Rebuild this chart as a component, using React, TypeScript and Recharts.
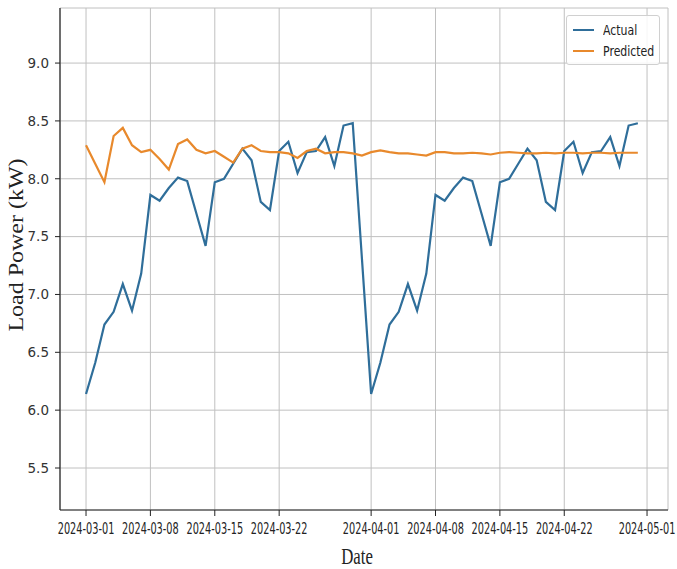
import { CartesianGrid, Legend, Line, LineChart, XAxis, YAxis } from "recharts";

// Daily load, 2024-03-01 .. 2024-04-30 (index = days since 2024-03-01)
const actual = [
  6.14, 6.41, 6.74, 6.85, 7.09, 6.86, 7.18, 7.86, 7.81, 7.92, 8.01, 7.98, 7.7, 7.42, 7.97, 8.0,
  8.13, 8.26, 8.16, 7.8, 7.73, 8.24, 8.32, 8.05, 8.23, 8.24, 8.36, 8.11, 8.46, 8.48, 7.31,
  6.14, 6.41, 6.74, 6.85, 7.09, 6.86, 7.18, 7.86, 7.81, 7.92, 8.01, 7.98, 7.7, 7.42, 7.97, 8.0,
  8.13, 8.26, 8.16, 7.8, 7.73, 8.24, 8.32, 8.05, 8.23, 8.24, 8.36, 8.11, 8.46, 8.48,
];

const predicted = [
  8.29, 8.13, 7.97, 8.37, 8.44, 8.29, 8.23, 8.25, 8.17, 8.08, 8.3, 8.34, 8.25, 8.22, 8.24, 8.19,
  8.14, 8.26, 8.29, 8.24, 8.23, 8.23, 8.22, 8.18, 8.24, 8.26, 8.22, 8.23, 8.23, 8.22, 8.2,
  8.23, 8.245, 8.23, 8.22, 8.22, 8.21, 8.2, 8.23, 8.23, 8.22, 8.22, 8.225, 8.22, 8.21, 8.225, 8.23,
  8.225, 8.22, 8.22, 8.225, 8.22, 8.225, 8.225, 8.22, 8.225, 8.225, 8.22, 8.225, 8.225, 8.225,
];

const xTickDays = [0, 7, 14, 21, 31, 38, 45, 52, 61];
const xTickLabels = [
  "2024-03-01", "2024-03-08", "2024-03-15", "2024-03-22",
  "2024-04-01", "2024-04-08", "2024-04-15", "2024-04-22", "2024-05-01",
];
const yTicks = [5.5, 6.0, 6.5, 7.0, 7.5, 8.0, 8.5, 9.0];

const rows = actual.map((a, i) => ({ day: i, actual: a, predicted: predicted[i] }));

const BLUE = "#2f6e9a";
const ORANGE = "#e8892c";
const X_DOMAIN: [number, number] = [-2.83, 63.28];
const Y_DOMAIN: [number, number] = [5.137, 9.476];

// condensed date labels, squeezed horizontally so neighbours don't collide
function DateTick({ x, y, payload }: any) {
  const idx = xTickDays.indexOf(payload.value);
  return (
    <text
      transform={`translate(${x} ${y + 16}) scale(0.61 1)`}
      textAnchor="middle"
      fontFamily="DejaVu Sans"
      fontSize={16}
      fill="#222"
    >
      {xTickLabels[idx]}
    </text>
  );
}

function LegendBox() {
  const item = (color: string, text: string) => (
    <div style={{ display: "flex", alignItems: "center", height: 21 }}>
      <span style={{ display: "inline-block", flexShrink: 0, width: 21, height: 2, background: color, marginRight: 9 }} />
      <span style={{ display: "inline-block", transform: "scaleX(0.78)", transformOrigin: "left center", whiteSpace: "nowrap" }}>
        {text}
      </span>
    </div>
  );
  return (
    <div
      style={{
        border: "1px solid #d0d0d0",
        borderRadius: 3,
        background: "rgba(255,255,255,0.85)",
        padding: "3px 0 3px 6px",
        fontFamily: "DejaVu Sans",
        fontSize: 14,
        color: "#222",
        width: 94,
        boxSizing: "border-box",
      }}
    >
      {item(BLUE, "Actual")}
      {item(ORANGE, "Predicted")}
    </div>
  );
}

export default function App() {
  return (
    <div style={{ position: "absolute", left: 0, top: 0, width: 677, height: 569, background: "#fff" }}>
      <LineChart width={677} height={569} data={rows} margin={{ top: 8, right: 9, left: 0, bottom: 0 }}>
        <CartesianGrid stroke="#c0c0c0" strokeWidth={1} />
        <XAxis
          dataKey="day"
          type="number"
          domain={X_DOMAIN}
          ticks={xTickDays}
          interval={0}
          height={59}
          tick={<DateTick />}
          tickSize={6}
          axisLine={{ stroke: "#222", strokeWidth: 1.2 }}
          tickLine={{ stroke: "#222" }}
          allowDataOverflow
          label={{
            content: () => (
              <text
                transform="translate(357 564) scale(0.7 1)"
                textAnchor="middle"
                fontFamily="Liberation Serif"
                fontSize={24}
                fill="#222"
              >
                Date
              </text>
            ),
          }}
        />
        <XAxis xAxisId="top" orientation="top" type="number" domain={X_DOMAIN} height={0} tick={false} tickLine={false} axisLine={{ stroke: "#222", strokeWidth: 1.2 }} />
        <YAxis
          type="number"
          domain={Y_DOMAIN}
          ticks={yTicks}
          width={60}
          tickSize={5}
          tickMargin={6}
          tickFormatter={(v: number) => v.toFixed(1)}
          tick={{ fontFamily: "DejaVu Sans", fontSize: 13.5, fill: "#333" }}
          axisLine={{ stroke: "#222", strokeWidth: 1.2 }}
          tickLine={{ stroke: "#222" }}
          allowDataOverflow
          label={{
            content: () => (
              <text
                transform="translate(23 245) rotate(-90) scale(1.2 1)"
                textAnchor="middle"
                fontFamily="Liberation Serif"
                fontSize={20}
                fill="#222"
              >
                Load Power (kW)
              </text>
            ),
          }}
        />
        <YAxis yAxisId="right" orientation="right" type="number" domain={Y_DOMAIN} width={0} tick={false} tickLine={false} axisLine={{ stroke: "#222", strokeWidth: 1.2 }} />
        <Legend
          layout="horizontal"
          verticalAlign="middle"
          align="center"
          content={() => <LegendBox />}
          wrapperStyle={{ position: "absolute", left: 566, top: 15, width: 94 }}
        />
        <Line type="linear" dataKey="actual" name="Actual" stroke={BLUE} strokeWidth={2.2} dot={false} isAnimationActive={false} />
        <Line type="linear" dataKey="predicted" name="Predicted" stroke={ORANGE} strokeWidth={2.2} dot={false} isAnimationActive={false} />
      </LineChart>
    </div>
  );
}
